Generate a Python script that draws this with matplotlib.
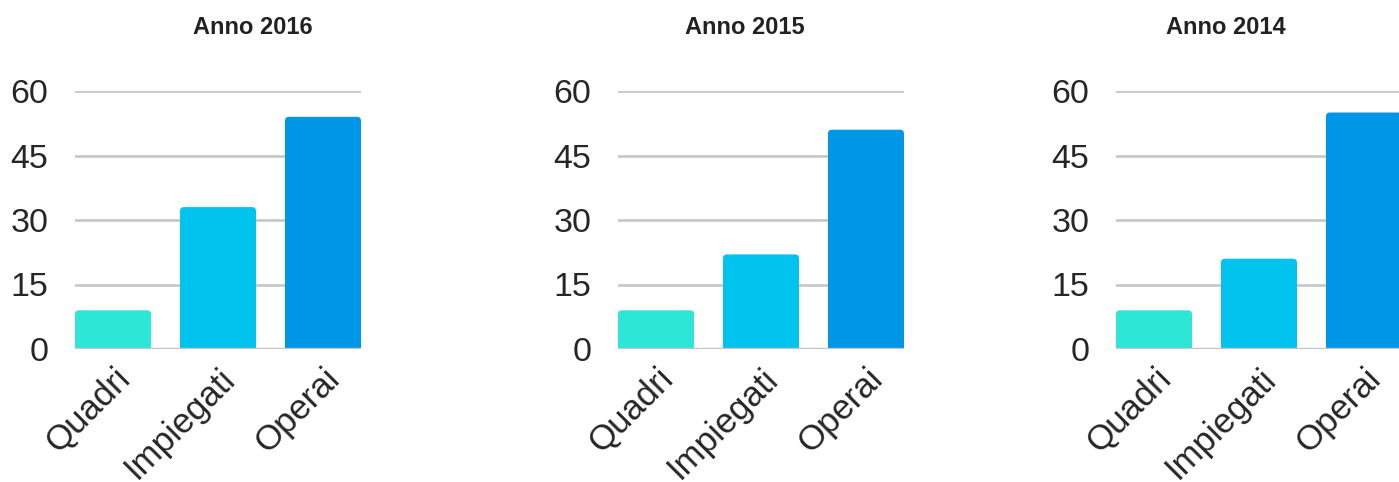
import matplotlib.pyplot as plt
from matplotlib.patches import FancyBboxPatch
from matplotlib.transforms import ScaledTranslation

categorie = ['Quadri', 'Impiegati', 'Operai']
anni = ['Anno 2016', 'Anno 2015', 'Anno 2014']
valori_2016 = [9, 33, 54]
valori_2015 = [9, 22, 51]
valori_2014 = [9, 21, 55]
colori = ['#2ee6d6', '#00c3ee', '#0096e8']
yticks = [0, 15, 30, 45, 60]

plt.rcParams['font.family'] = ['Liberation Sans', 'DejaVu Sans']

fig = plt.figure(figsize=(13.99, 4.82), dpi=100)

# posizioni degli assi (in frazioni della figura)
lefts = [75 / 1399, 618 / 1399, 1116 / 1399]
title_x = [253 / 1399, 745 / 1399, 1226 / 1399]
w_ax = 286 / 1399
bottom = 1 - 349 / 482
h_ax = (349 - 91) / 482

larg = 0.724
for k, valori in enumerate([valori_2016, valori_2015, valori_2014]):
    ax = fig.add_axes([lefts[k], bottom, w_ax, h_ax])
    ax.set_xlim(-larg / 2, len(categorie) - 1 + larg / 2)
    ax.set_ylim(0, 60)

    # aspetto per gli angoli arrotondati (px per unita')
    px_x = w_ax * 1399 / (len(categorie) - 1 + larg)
    px_y = h_ax * 482 / 60
    r = 4 / px_x
    aspect = px_x / px_y
    for i, v in enumerate(valori):
        p = FancyBboxPatch((i - larg / 2, -r * aspect), larg, v + r * aspect,
                           boxstyle='round,pad=0,rounding_size=%f' % r,
                           mutation_aspect=aspect, facecolor=colori[i],
                           edgecolor='none', zorder=2)
        ax.add_patch(p)

    ax.set_yticks(yticks)
    ax.set_yticklabels([str(t) for t in yticks], fontsize=24.5, color='#262626')
    ax.yaxis.grid(True, color='#c6c6c6', linewidth=1.9, zorder=1)
    ax.set_axisbelow(True)
    ax.axhline(0, color='#c4c4c4', linewidth=2.4, zorder=3)
    ax.set_xticks(range(len(categorie)))
    ax.set_xticklabels(categorie, fontsize=25, color='#262626', rotation=45,
                       ha='right', va='top', rotation_mode='anchor')
    sposta = ScaledTranslation(-0.09, 0.0, fig.dpi_scale_trans)
    for lab in ax.get_xticklabels():
        lab.set_transform(lab.get_transform() + sposta)
    ax.tick_params(length=0)
    ax.tick_params(axis='y', pad=19)
    ax.tick_params(axis='x', pad=9)
    for s in ax.spines.values():
        s.set_visible(False)

    fig.text(title_x[k], 1 - 27 / 482, anni[k], ha='center', va='center',
             fontsize=17, fontweight='bold', color='#222222')

fig.savefig('out.png', dpi=100)
